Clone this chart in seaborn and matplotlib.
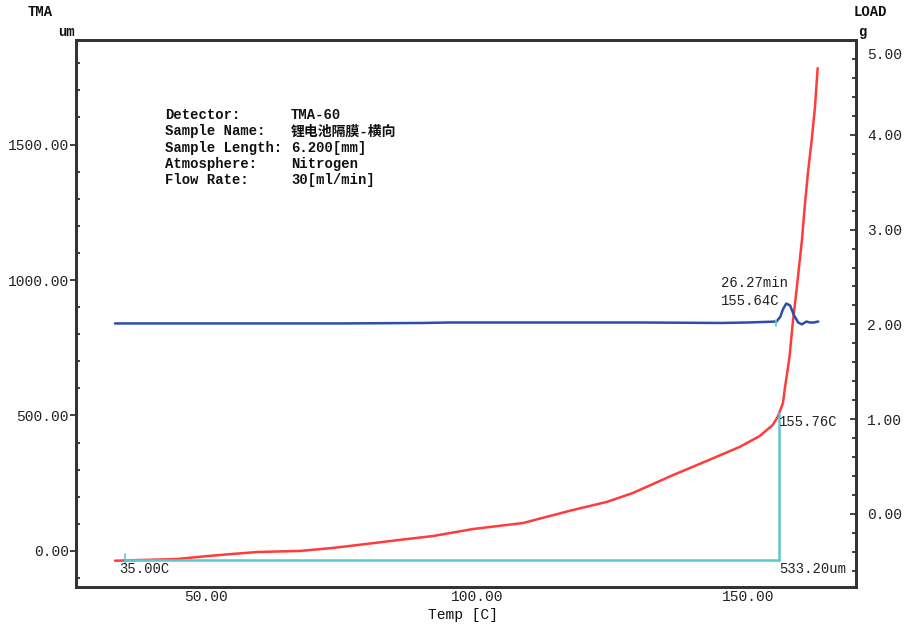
import matplotlib
matplotlib.use("Agg")
import matplotlib.pyplot as plt
import seaborn as sns
import pandas as pd
import numpy as np
from matplotlib.ticker import MultipleLocator, FormatStrFormatter, FuncFormatter

# ---- data ----
tma_temp = [33.2, 44.6, 50.2, 55.0, 59.4, 67.3, 73.4, 79.7, 85.8, 91.9, 99.3, 108.5,
            117.7, 124.0, 128.8, 136.2, 142.4, 148.5, 152.2, 154.6, 155.5, 156.5,
            156.8, 157.7, 158.3, 159.0, 160.0, 160.5, 161.1, 161.8, 162.4, 162.9]
tma_um = [-36, -30, -19, -11, -4, 0, 11, 26, 41, 55, 81, 103,
          151, 181, 214, 280, 332, 384, 424, 465, 494, 546,
          594, 716, 841, 963, 1148, 1269, 1395, 1517, 1638, 1782]

load_temp = [33.2, 60.0, 75.0, 90.0, 95.0, 110.0, 130.0, 145.0, 150.0, 155.3,
             156.0, 156.5, 157.1, 157.8, 158.5, 159.3, 160.0, 160.8, 161.5, 162.2, 163.0]
load_g = [2.01, 2.01, 2.01, 2.015, 2.02, 2.02, 2.02, 2.015, 2.02, 2.03,
          2.08, 2.16, 2.22, 2.20, 2.10, 2.02, 2.00, 2.03, 2.02, 2.02, 2.03]

t_start, t_end = 35.00, 155.76
dl_um = 533.20
peak_min, peak_temp = 26.27, 155.64

info_keys = ["Detector:", "Sample Name:", "Sample Length:", "Atmosphere:", "Flow Rate:"]
info_vals = ["TMA-60", "锂电池隔膜-横向", "6.200[mm]", "Nitrogen", "30[ml/min]"]

# ---- style ----
sns.set_style("white")
plt.rcParams['font.family'] = ['Liberation Mono', 'Noto Sans CJK SC', 'DejaVu Sans']

fig = plt.figure(figsize=(9.05, 6.3), dpi=100)
ax = fig.add_axes([0.084, 0.0683, 0.862, 0.8682])
ax2 = ax.twinx()

red = "#ff3b3b"
blue = "#2b4eaa"
cyan = "#5ec6cf"

tma_df = pd.DataFrame({"temp": tma_temp, "um": tma_um})
load_df = pd.DataFrame({"temp": load_temp, "g": load_g})

sns.lineplot(data=tma_df, x="temp", y="um", ax=ax, color=red, lw=1.8, sort=False)
sns.lineplot(data=load_df, x="temp", y="g", ax=ax2, color=blue, lw=1.8, sort=False)

y_a = float(np.interp(t_start, tma_temp, tma_um))
y_b = float(np.interp(t_end, tma_temp, tma_um))
ax.plot([t_start, t_end], [y_a, y_a], color=cyan, lw=1.8)
ax.plot([t_end, t_end], [y_a, y_b], color=cyan, lw=1.8)
ax.plot([t_start, t_start], [y_a - 12, y_a + 22], color=cyan, lw=1.2)
ax2.plot([155.3, 155.3], [1.98, 2.05], color=cyan, lw=1.2)

ax.set_xlim(26.0, 170.0)
ax.set_ylim(-133, 1886)
ax2.set_ylim(-0.77, 5.0)

ax.xaxis.set_major_locator(MultipleLocator(50))
ax.xaxis.set_minor_locator(MultipleLocator(10))
ax.yaxis.set_major_locator(MultipleLocator(500))
ax.yaxis.set_minor_locator(MultipleLocator(100))
ax2.yaxis.set_major_locator(MultipleLocator(1))
ax2.yaxis.set_minor_locator(MultipleLocator(0.2))
ax.xaxis.set_major_formatter(FormatStrFormatter('%.2f'))
ax.yaxis.set_major_formatter(FormatStrFormatter('%.2f'))
ax2_top = 5.0
ax2.yaxis.set_major_formatter(FuncFormatter(lambda v, p: "" if abs(v - ax2_top) < 1e-6 else f"{v:.2f}"))

tick_kw = dict(labelsize=10.5, colors='#222222', width=1.2)
ax.tick_params(axis='x', which='major', direction='in', length=4, pad=2, **tick_kw)
ax.tick_params(axis='x', which='minor', direction='in', length=3, width=1.2, colors='#222222')
ax.tick_params(axis='y', which='major', direction='out', length=4, pad=1, **tick_kw)
ax.tick_params(axis='y', which='minor', direction='in', length=3, width=1.2, colors='#222222')
ax2.tick_params(axis='y', which='major', direction='in', length=4, pad=8, **tick_kw)
ax2.tick_params(axis='y', which='minor', direction='in', length=3, width=1.2, colors='#222222')
ax.minorticks_on()
ax2.minorticks_on()

for a in (ax, ax2):
    for s in a.spines.values():
        s.set_color('#333333')
        s.set_linewidth(2)
    a.set_xlabel("")
    a.set_ylabel("")

# top right-axis label, shifted below the frame as in the reference
ax2.annotate(f"{ax2_top:.2f}", xy=(1.0, ax2_top), xycoords=('axes fraction', 'data'),
             xytext=(8, -11), textcoords='offset points', fontsize=10.5, color='#222222',
             ha='left', va='center')

# axis titles
fig.text(40 / 905, 1 - 12 / 630, "TMA", fontsize=10, weight='bold', ha='center', va='center', color='#111111')
fig.text(66 / 905, 1 - 32 / 630, "um", fontsize=10, weight='bold', ha='center', va='center', color='#111111')
fig.text(870 / 905, 1 - 12 / 630, "LOAD", fontsize=10, weight='bold', ha='center', va='center', color='#111111')
fig.text(862 / 905, 1 - 32 / 630, "g", fontsize=10, weight='bold', ha='center', va='center', color='#111111')
fig.text(463 / 905, 1 - 615 / 630, "Temp [C]", fontsize=10.5, ha='center', va='center', color='#111111')

# info block
for i, (k, v) in enumerate(zip(info_keys, info_vals)):
    yy = 1 - (115 + i * 16.3) / 630
    fig.text(165 / 905, yy, k, fontsize=10, weight='bold', ha='left', va='center', color='#111111')
    fig.text(291 / 905, yy, v, fontsize=10, weight='bold', ha='left', va='center', color='#111111',
             family=['Liberation Mono', 'Noto Sans CJK SC'])

# annotations
ann = dict(fontsize=10, ha='left', va='center', color='#222222')
ax2.annotate(f"{peak_min:.2f}min", xy=(154.0, 2.0), xycoords='data', xytext=(-35, 29.5),
             textcoords='offset points', **ann)
ax2.annotate(f"{peak_temp:.2f}C", xy=(154.0, 2.0), xycoords='data', xytext=(-35, 17),
             textcoords='offset points', **ann)
ax.annotate(f"{t_end:.2f}C", xy=(t_end, y_b), xycoords='data', xytext=(0, -6),
            textcoords='offset points', **ann)
ax.annotate(f"{dl_um:.2f}um", xy=(t_end, y_a), xycoords='data', xytext=(0, -6),
            textcoords='offset points', **ann)
ax.annotate(f"{t_start:.2f}C", xy=(t_start, y_a), xycoords='data', xytext=(-4, -6),
            textcoords='offset points', **ann)

fig.savefig("out.png", dpi=100)
